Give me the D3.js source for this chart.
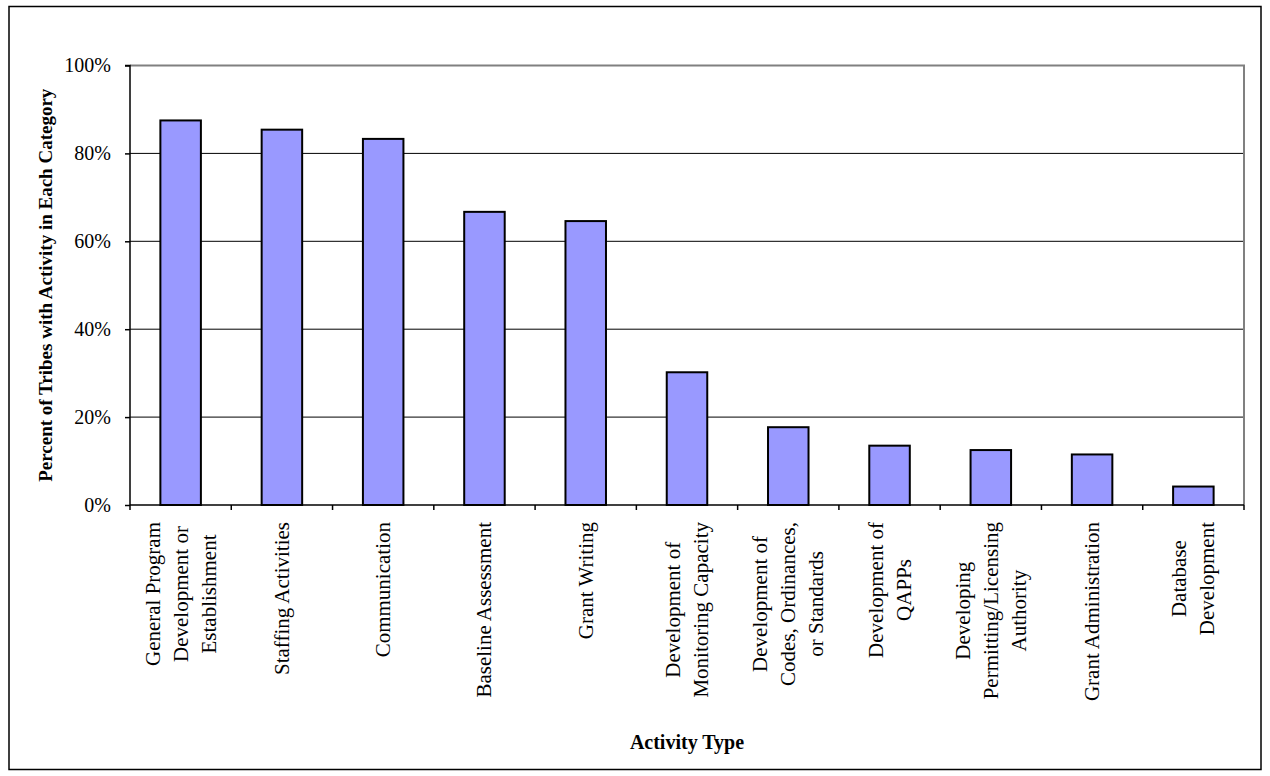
<!DOCTYPE html>
<html>
<head>
<meta charset="utf-8">
<script src="https://cdn.jsdelivr.net/npm/d3@7/dist/d3.min.js"></script>
<style>
  html, body { margin: 0; padding: 0; background: #fff; }
  svg { display: block; font-family: "Liberation Serif", "Times New Roman", serif; }
</style>
</head>
<body>
<svg id="chart" width="1270" height="776"></svg>
<script>
// Activity categories (lines of each label split with "\n")
const categories = [
  "General Program\nDevelopment or\nEstablishment",
  "Staffing Activities",
  "Communication",
  "Baseline Assessment",
  "Grant Writing",
  "Development of\nMonitoring Capacity",
  "Development of\nCodes, Ordinances,\nor Standards",
  "Development of\nQAPPs",
  "Developing\nPermitting/Licensing\nAuthority",
  "Grant Administration",
  "Database\nDevelopment"
];
// Share of tribes reporting activity in each category (%)
const percents = [87.5, 85.4, 83.3, 66.7, 64.6, 30.2, 17.7, 13.5, 12.5, 11.5, 4.2];
const yTicks = [0, 20, 40, 60, 80, 100];
const yTitle = "Percent of Tribes with Activity in Each Category";
const xTitle = "Activity Type";

const svg = d3.select("#chart");
const plot = { left: 130, right: 1244, top: 65.5, bottom: 505 };

// Outer frame
svg.append("rect")
  .attr("x", 9).attr("y", 6.5)
  .attr("width", 1252).attr("height", 763)
  .attr("fill", "#fff").attr("stroke", "#000").attr("stroke-width", 1.5);

const x = d3.scaleBand()
  .domain(categories.map((d, i) => i))
  .range([plot.left, plot.right])
  .paddingInner(0.6).paddingOuter(0.3);

const y = d3.scaleLinear().domain([0, 100]).range([plot.bottom, plot.top]);

// Gridlines
svg.append("g")
  .selectAll("line")
  .data(yTicks.filter(t => t > 0 && t < 100))
  .join("line")
  .attr("x1", plot.left).attr("x2", plot.right)
  .attr("y1", d => y(d)).attr("y2", d => y(d))
  .attr("stroke", "#000").attr("stroke-width", 1);

// Plot-area border (top and right in grey)
svg.append("path")
  .attr("d", `M${plot.left},${y(100)}H${plot.right}V${plot.bottom}`)
  .attr("fill", "none").attr("stroke", "#808080").attr("stroke-width", 2);

// Bars
svg.append("g")
  .selectAll("rect")
  .data(percents)
  .join("rect")
  .attr("x", (d, i) => x(i))
  .attr("width", x.bandwidth())
  .attr("y", d => y(d))
  .attr("height", d => y(0) - y(d))
  .attr("fill", "#9999FF")
  .attr("stroke", "#000")
  .attr("stroke-width", 2);

// Y axis
const yAxis = d3.axisLeft(y)
  .tickValues(yTicks)
  .tickSize(5)
  .tickPadding(14)
  .tickFormat(d => d + "%");
const gy = svg.append("g").attr("transform", `translate(${plot.left},0)`).call(yAxis);
gy.select(".domain").attr("stroke", "#000").attr("stroke-width", 1.5)
  .attr("d", `M-5,${y(100)}H0V${y(0)}`);
gy.selectAll(".tick line").attr("stroke", "#000").attr("stroke-width", 1.5);
gy.selectAll(".tick text")
  .attr("font-family", "'Liberation Serif', 'Times New Roman', serif")
  .attr("font-size", 20).attr("fill", "#000");

// X axis line and tick marks at category boundaries
const bounds = d3.range(categories.length + 1).map(i => plot.left + i * (plot.right - plot.left) / categories.length);
svg.append("line")
  .attr("x1", plot.left).attr("x2", plot.right)
  .attr("y1", plot.bottom).attr("y2", plot.bottom)
  .attr("stroke", "#000").attr("stroke-width", 1.5);
svg.append("g")
  .selectAll("line")
  .data(bounds)
  .join("line")
  .attr("x1", d => d).attr("x2", d => d)
  .attr("y1", plot.bottom).attr("y2", plot.bottom + 5)
  .attr("stroke", "#000").attr("stroke-width", 1.5);

// Rotated category labels, lines centered, block hanging from the axis
const lineGap = 28;
const labelTop = 522;
const labels = svg.append("g")
  .selectAll("g")
  .data(categories)
  .join("g")
  .attr("transform", (d, i) => `translate(${x(i) + x.bandwidth() / 2},${labelTop}) rotate(-90)`);

labels.each(function (d) {
  const g = d3.select(this);
  const lines = d.split("\n");
  const n = lines.length;
  const texts = g.selectAll("text")
    .data(lines)
    .join("text")
    .attr("font-size", 21)
    .attr("fill", "#000")
    .attr("text-anchor", "middle")
    .attr("dominant-baseline", "central")
    .attr("y", (t, k) => (k - (n - 1) / 2) * lineGap)
    .text(t => t);
  let maxW = 0;
  texts.each(function () { maxW = Math.max(maxW, this.getComputedTextLength()); });
  texts.attr("x", -maxW / 2);
});

// Axis titles
svg.append("text")
  .attr("transform", `translate(45,${(plot.top + plot.bottom) / 2}) rotate(-90)`)
  .attr("text-anchor", "middle")
  .attr("dominant-baseline", "central")
  .attr("font-size", 19).attr("font-weight", "bold")
  .text(yTitle);

svg.append("text")
  .attr("x", (plot.left + plot.right) / 2)
  .attr("y", 749)
  .attr("text-anchor", "middle")
  .attr("font-size", 20).attr("font-weight", "bold")
  .text(xTitle);
</script>
</body>
</html>
